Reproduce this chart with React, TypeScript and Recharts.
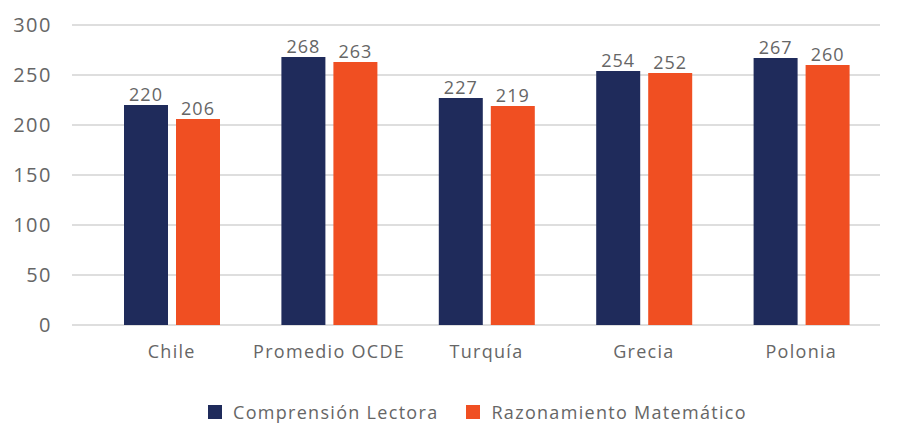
import { BarChart, Bar, XAxis, YAxis, CartesianGrid, Legend, LabelList } from 'recharts';

const categories = ['Chile', 'Promedio OCDE', 'Turquía', 'Grecia', 'Polonia'];
const lectora = [220, 268, 227, 254, 267];
const matematico = [206, 263, 219, 252, 260];
const yTicks = [0, 50, 100, 150, 200, 250, 300];

const NAVY = '#1f2b5b';
const ORANGE = '#f04f22';
const TEXT = '#666666';
const FONT = '"Open Sans", "Noto Sans", sans-serif';

const data = categories.map((name, i) => ({
  name,
  lectora: lectora[i],
  matematico: matematico[i],
}));

// legend drawn by hand so the squares/gaps sit where the original has them
const renderLegend = (props: any) => {
  const { payload } = props;
  return (
    <div style={{ display: 'flex', justifyContent: 'flex-start', fontFamily: FONT, fontSize: 18, letterSpacing: 1.3, color: TEXT, paddingLeft: 208 }}>
      {payload.map((entry: any, i: number) => (
        <div key={i} style={{ display: 'flex', alignItems: 'center', marginRight: i === 0 ? 28 : 0 }}>
          <span style={{ width: 14, height: 14, background: entry.color, display: 'inline-block', marginRight: 11 }} />
          <span>{entry.value}</span>
        </div>
      ))}
    </div>
  );
};

const App = () => {
  return (
    <div style={{ position: 'absolute', left: 0, top: 0, background: '#fff' }}>
      <BarChart
        width={902}
        height={424}
        data={data}
        margin={{ top: 25, right: 22, left: 0, bottom: 0 }}
        barSize={44}
        barGap={8}
      >
        <CartesianGrid vertical={false} stroke="#bdbdbd" />
        <XAxis
          dataKey="name"
          axisLine={false}
          tickLine={false}
          height={75}
          padding={{ left: 21, right: 0 }}
          tickMargin={14}
          tick={{ fontSize: 18, fill: TEXT, fontFamily: FONT, letterSpacing: 1.3 }}
        />
        <YAxis
          width={72}
          domain={[0, 300]}
          ticks={yTicks}
          axisLine={false}
          tickLine={false}
          tickMargin={14}
          tick={{ fontSize: 20, fill: TEXT, fontFamily: FONT, letterSpacing: 1.5 }}
        />
        <Legend verticalAlign="bottom" content={renderLegend} />
        <Bar dataKey="lectora" name="Comprensión Lectora" fill={NAVY} isAnimationActive={false}>
          <LabelList dataKey="lectora" position="top" offset={4} fill={TEXT} fontSize={18} fontFamily={FONT} letterSpacing={1} />
        </Bar>
        <Bar dataKey="matematico" name="Razonamiento Matemático" fill={ORANGE} isAnimationActive={false}>
          <LabelList dataKey="matematico" position="top" offset={4} fill={TEXT} fontSize={18} fontFamily={FONT} letterSpacing={1} />
        </Bar>
      </BarChart>
    </div>
  );
};

export default App;
